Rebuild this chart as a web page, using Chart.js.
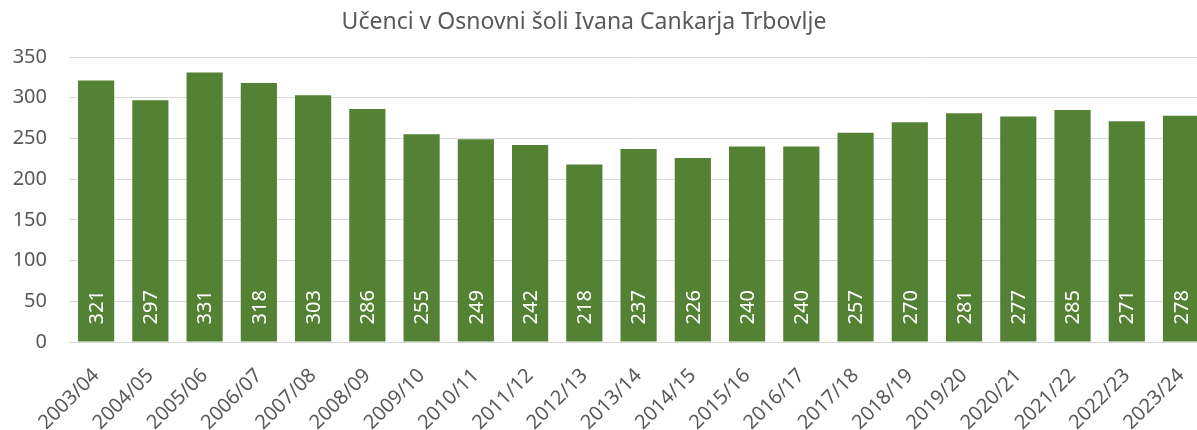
<!DOCTYPE html>
<html>
<head>
<meta charset="utf-8">
<script src="https://cdn.jsdelivr.net/npm/chart.js@4"></script>
<style>
  html, body { margin: 0; padding: 0; background: #fff; overflow: hidden; }
  #wrap { width: 1220px; height: 430px; }
</style>
</head>
<body>
<div id="wrap"><canvas id="ucenciChart" width="1220" height="430"></canvas></div>
<script>
const years = ['2003/04', '2004/05', '2005/06', '2006/07', '2007/08', '2008/09', '2009/10',
    '2010/11', '2011/12', '2012/13', '2013/14', '2014/15', '2015/16', '2016/17',
    '2017/18', '2018/19', '2019/20', '2020/21', '2021/22', '2022/23', '2023/24'];
const pupils = [321, 297, 331, 318, 303, 286, 255, 249, 242, 218, 237, 226, 240, 240,
    257, 270, 281, 277, 285, 271, 278];
const yTicks = [0, 50, 100, 150, 200, 250, 300, 350];
const chartTitle = 'Učenci v Osnovni šoli Ivana Cankarja Trbovlje';

const FONT = '"Noto Sans", "Open Sans", sans-serif';
const GREY = '#595959';

// white vertical value labels sitting at the foot of each bar
const barValueLabels = {
    id: 'barValueLabels',
    afterDatasetsDraw(chart) {
        const ctx = chart.ctx;
        const meta = chart.getDatasetMeta(0);
        ctx.save();
        ctx.fillStyle = '#ffffff';
        ctx.font = '20px ' + FONT;
        ctx.textAlign = 'left';
        ctx.textBaseline = 'middle';
        meta.data.forEach((bar, i) => {
            ctx.save();
            ctx.translate(bar.x, bar.base - 17);
            ctx.rotate(-Math.PI / 2);
            ctx.fillText(String(pupils[i]), 0, 1);
            ctx.restore();
        });
        ctx.restore();
    }
};

// title centred on the visible window rather than the (wider) canvas
const topTitle = {
    id: 'topTitle',
    afterDraw(chart) {
        const ctx = chart.ctx;
        ctx.save();
        ctx.fillStyle = GREY;
        ctx.font = '23px ' + FONT;
        ctx.textAlign = 'center';
        ctx.textBaseline = 'middle';
        ctx.fillText(chartTitle, 584, 22);
        ctx.restore();
    }
};

new Chart(document.getElementById('ucenciChart').getContext('2d'), {
    type: 'bar',
    data: {
        labels: years,
        datasets: [{
            data: pupils,
            backgroundColor: '#548235',
            borderWidth: 0,
            categoryPercentage: 1,
            barPercentage: 0.667,
        }],
    },
    options: {
        responsive: false,
        animation: false,
        layout: { padding: { top: 57, left: 0, right: 0, bottom: 0 } },
        plugins: {
            legend: { display: false },
            tooltip: { enabled: false },
            title: { display: false },
        },
        scales: {
            x: {
                grid: { display: false, drawTicks: false },
                border: { color: '#d9d9d9', width: 1 },
                ticks: {
                    color: GREY,
                    font: { family: FONT, size: 20 },
                    maxRotation: 45,
                    minRotation: 45,
                    padding: 22,
                },
                afterFit(scale) { scale.height = 88; },
            },
            y: {
                min: 0,
                max: 350,
                afterBuildTicks(scale) { scale.ticks = yTicks.map(v => ({ value: v })); },
                grid: { color: '#d9d9d9', lineWidth: 1, drawTicks: false },
                border: { display: false },
                ticks: {
                    color: GREY,
                    font: { family: FONT, size: 20 },
                    padding: 22,
                },
                afterFit(scale) { scale.width = 69; },
            },
        },
    },
    plugins: [barValueLabels, topTitle],
});
</script>
</body>
</html>
